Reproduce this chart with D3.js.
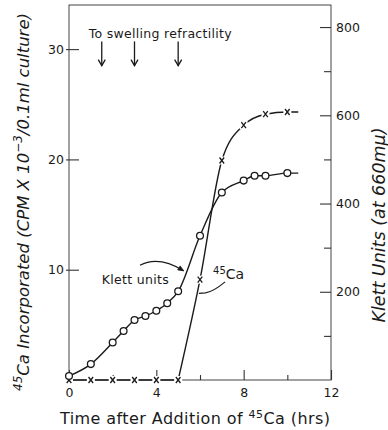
<!DOCTYPE html>
<html>
<head>
<meta charset="utf-8">
<script src="https://cdn.jsdelivr.net/npm/d3@7"></script>
<style>
  body { margin: 0; background: #fff; }
  svg { display: block; font-family: "DejaVu Sans", sans-serif; }
</style>
</head>
<body>
<svg id="chart" width="388" height="430"></svg>
<script>
// Klett units (open circles, right axis)
var klettTimes = [0, 1, 2, 2.5, 3, 3.5, 4, 4.5, 5, 6, 7, 8, 8.5, 9, 10];
var klettValues = [9, 36, 85, 111, 136, 145, 157, 174, 201, 327, 425, 452, 463, 463, 469];

// 45Ca incorporated (x marks, left axis)
var caTimes = [0, 1, 2, 3, 4, 5, 6, 7, 8, 9, 10];
var caValues = [0, 0, 0, 0, 0, 0, 9.1, 19.9, 23.1, 24.1, 24.3];

// curves run on a little past the last reading
var tailTime = 10.5;

// ticks
var xLabelTicks = [0, 4, 8, 12];
var xMinorTicks = [2, 6, 10];
var leftTicks = [10, 20, 30];
var rightTicks = [200, 400, 600, 800];
var rightMinorTicks = [100, 300, 500, 700];

// "to swelling refractility" arrows (hrs)
var arrowTimes = [1.5, 3, 5];

var svg = d3.select("#chart");

var x = d3.scaleLinear().domain([0, 12]).range([69, 331]);
var yL = d3.scaleLinear().domain([0, 34]).range([380, 5]);
var yR = d3.scaleLinear().domain([0, 850]).range([380, 5]);

var ink = "#1a1a1a";

// frame
svg.append("rect")
    .attr("x", x(0)).attr("y", yL(34))
    .attr("width", x(12) - x(0)).attr("height", yL(0) - yL(34))
    .attr("fill", "none").attr("stroke", "#444").attr("stroke-width", 1);

// axes
function styleAxis(g) {
  g.select(".domain").remove();
  g.selectAll(".tick line").attr("stroke", "#333").attr("stroke-width", 1.1);
  g.selectAll(".tick text").attr("fill", ink).style("font-size", "12.5px")
    .style("font-family", "DejaVu Sans");
}

svg.append("g").attr("transform", "translate(" + x(0) + ",0)")
  .call(d3.axisLeft(yL).tickValues(leftTicks).tickSize(-10).tickPadding(5))
  .call(styleAxis)
  .selectAll(".tick line").attr("x1", -3);

svg.append("g").attr("transform", "translate(" + x(12) + ",0)")
  .call(d3.axisRight(yR).tickValues(rightTicks).tickSize(-11).tickPadding(5))
  .call(styleAxis);

svg.append("g").attr("transform", "translate(" + x(12) + ",0)")
  .call(d3.axisRight(yR).tickValues(rightMinorTicks).tickSize(-7).tickFormat(""))
  .call(styleAxis);

svg.append("g").attr("transform", "translate(0," + yL(0) + ")")
  .call(d3.axisBottom(x).tickValues(xLabelTicks).tickSize(-10).tickPadding(8))
  .call(styleAxis);

svg.append("g").attr("transform", "translate(0," + yL(0) + ")")
  .call(d3.axisBottom(x).tickValues(xMinorTicks).tickSize(-5).tickFormat(""))
  .call(styleAxis);

// Klett curve
var klettPts = klettTimes.map((t, i) => [t, klettValues[i]]);
klettPts.push([tailTime, klettValues[klettValues.length - 1]]);

svg.append("path")
    .attr("d", d3.line().x(d => x(d[0])).y(d => yR(d[1])).curve(d3.curveMonotoneX)(klettPts))
    .attr("fill", "none").attr("stroke", ink).attr("stroke-width", 1.4);

// 45Ca curve: flat while nothing is taken up, then a smooth rise
var caPts = caTimes.map((t, i) => [t, caValues[i]]);
caPts.push([tailTime, caValues[caValues.length - 1]]);
var lastZero = d3.max(caPts.filter(d => d[1] === 0), d => d[0]);

svg.append("path")
    .attr("d", d3.line().x(d => x(d[0])).y(d => yL(d[1]))(caPts.filter(d => d[0] <= lastZero)))
    .attr("fill", "none").attr("stroke", ink).attr("stroke-width", 1.4);

svg.append("path")
    .attr("d", d3.line().x(d => x(d[0])).y(d => yL(d[1])).curve(d3.curveMonotoneX)(caPts.filter(d => d[0] >= lastZero)))
    .attr("fill", "none").attr("stroke", ink).attr("stroke-width", 1.4);

// x markers with a small gap in the line
var marks = svg.append("g").selectAll("g").data(caPts.slice(0, caTimes.length)).enter()
  .append("g").attr("transform", d => "translate(" + x(d[0]) + "," + yL(d[1]) + ")");
marks.append("rect").attr("x", -4).attr("y", -4).attr("width", 8).attr("height", 8).attr("fill", "#fff");
marks.append("path").attr("d", "M-2.3,-3L2.3,3M2.3,-3L-2.3,3")
  .attr("stroke", ink).attr("stroke-width", 1.3);

// circles
svg.append("g").selectAll("circle").data(klettPts.slice(0, klettTimes.length)).enter()
  .append("circle")
    .attr("cx", d => x(d[0])).attr("cy", d => yR(d[1])).attr("r", 3.4)
    .attr("fill", "#fff").attr("stroke", ink).attr("stroke-width", 1.3);

// swelling annotation
svg.append("text")
    .attr("x", x(0.9)).attr("y", yL(31.0))
    .attr("fill", ink).style("font-size", "12.5px")
    .attr("textLength", 143).attr("lengthAdjust", "spacing")
    .text("To swelling refractility");

var arrows = svg.append("g").selectAll("g").data(arrowTimes).enter().append("g");
arrows.append("line")
    .attr("x1", d => x(d)).attr("x2", d => x(d))
    .attr("y1", yL(30.7)).attr("y2", yL(28.5))
    .attr("stroke", ink).attr("stroke-width", 1.3);
arrows.append("path")
    .attr("d", d => "M" + (x(d) - 3.5) + "," + (yL(28.5) - 6) + "L" + x(d) + "," + yL(28.5) + "L" + (x(d) + 3.5) + "," + (yL(28.5) - 6))
    .attr("fill", "none").attr("stroke", ink).attr("stroke-width", 1.3);

// "Klett units" label with curved pointer
svg.append("text")
    .attr("x", x(1.5)).attr("y", yL(8.7))
    .attr("fill", ink).style("font-size", "12.5px")
    .attr("textLength", 67).attr("lengthAdjust", "spacing")
    .text("Klett units");

var kp0 = [x(3.25), yL(10.4)], kp1 = [x(4.1), yL(11.3)], kp2 = [x(5.25), yL(9.9)];
svg.append("path")
    .attr("d", "M" + kp0 + "Q" + kp1 + " " + kp2)
    .attr("fill", "none").attr("stroke", ink).attr("stroke-width", 1.1);
var ang = Math.atan2(kp2[1] - kp1[1], kp2[0] - kp1[0]);
var headL = 6, spread = 0.4;
svg.append("path")
    .attr("d", "M" + (kp2[0] - headL * Math.cos(ang - spread)) + "," + (kp2[1] - headL * Math.sin(ang - spread)) +
               "L" + kp2 + "L" + (kp2[0] - headL * Math.cos(ang + spread)) + "," + (kp2[1] - headL * Math.sin(ang + spread)) + "Z")
    .attr("fill", ink).attr("stroke", ink).attr("stroke-width", 0.8);

// "45Ca" label with pointer
var caLabel = svg.append("text")
    .attr("x", x(6.6)).attr("y", yL(9.2))
    .attr("fill", ink).style("font-size", "14px");
caLabel.append("tspan").attr("baseline-shift", "super").style("font-size", "10px").text("45");
caLabel.append("tspan").text("Ca");

svg.append("path")
    .attr("d", "M" + [x(7.15), yL(8.9)] + "Q" + [x(6.6), yL(8.0)] + " " + [x(6.25), yL(7.9)] + "L" + [x(5.95), yL(7.85)])
    .attr("fill", "none").attr("stroke", ink).attr("stroke-width", 1.1);

// axis titles
var xt = svg.append("text")
    .attr("x", 195).attr("y", 424)
    .attr("text-anchor", "middle").attr("fill", ink).style("font-size", "16px")
    .attr("textLength", 270).attr("lengthAdjust", "spacing");
xt.append("tspan").text("Time after Addition of ");
xt.append("tspan").attr("baseline-shift", "super").style("font-size", "11px").text("45");
xt.append("tspan").text("Ca (hrs)");

var lt = svg.append("text")
    .attr("transform", "translate(29,202) rotate(-90)")
    .attr("text-anchor", "middle").attr("fill", ink)
    .style("font-size", "16.5px").style("font-style", "italic");
lt.append("tspan").attr("baseline-shift", "super").style("font-size", "12px").text("45");
lt.append("tspan").text("Ca Incorporated (CPM X 10");
lt.append("tspan").attr("baseline-shift", "super").style("font-size", "12px").text("\u22123");
lt.append("tspan").text("/0.1ml culture)");

svg.append("text")
    .attr("transform", "translate(385,225) rotate(-90)")
    .attr("text-anchor", "middle").attr("fill", ink)
    .style("font-size", "17.5px").style("font-style", "italic")
    .text("Klett Units (at 660m\u03bc)");
</script>
</body>
</html>
